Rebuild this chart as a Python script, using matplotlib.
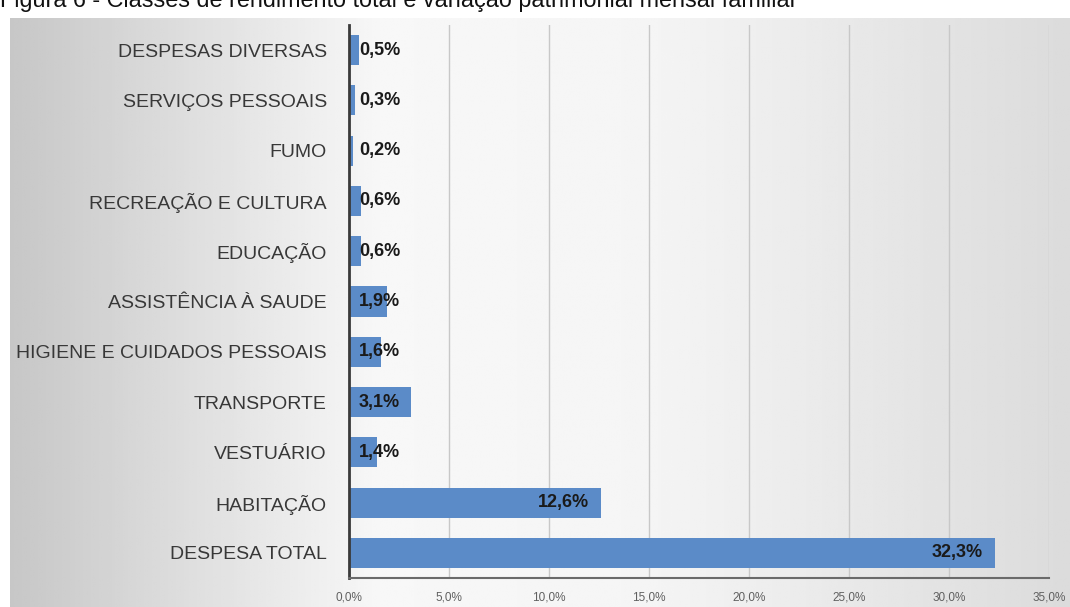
import numpy as np
import matplotlib.pyplot as plt
from matplotlib.ticker import FuncFormatter

plt.rcParams['font.family'] = ['Liberation Sans', 'DejaVu Sans']

categorias = ['DESPESA TOTAL', 'HABITAÇÃO', 'VESTUÁRIO', 'TRANSPORTE',
              'HIGIENE E CUIDADOS PESSOAIS', 'ASSISTÊNCIA À SAUDE', 'EDUCAÇÃO',
              'RECREAÇÃO E CULTURA', 'FUMO', 'SERVIÇOS PESSOAIS', 'DESPESAS DIVERSAS']
valores = [32.3, 12.6, 1.4, 3.1, 1.6, 1.9, 0.6, 0.6, 0.2, 0.3, 0.5]
ticks = [0, 5, 10, 15, 20, 25, 30, 35]

fig = plt.figure(figsize=(10.7, 6.07), dpi=100)

# fundo em degradê atrás do gráfico
bg = fig.add_axes([10 / 1070, 0, 1 - 10 / 1070, 1 - 18 / 607], zorder=0)
xs = np.linspace(0, 1, 400)
tons = np.interp(xs, [0, 0.35, 0.6, 1.0], [0.78, 0.97, 0.96, 0.86])
bg.imshow(np.tile(tons, (10, 1)), cmap='gray', vmin=0, vmax=1,
          aspect='auto', extent=[0, 1, 0, 1])
bg.axis('off')

ax = fig.add_axes([349 / 1070, 1 - 578 / 607, 700 / 1070, 553 / 607], zorder=1)
ax.patch.set_alpha(0)

y = np.arange(len(categorias))
ax.barh(y, valores, height=0.6, color='#5b8bc8', zorder=2)

for yi, v in zip(y, valores):
    ax.text(max(v - 0.6, 2.55), yi, f'{v:.1f}%'.replace('.', ','),
            ha='right', va='center', fontsize=13, fontweight='bold',
            color='#1a1a1a', zorder=3)

ax.set_xlim(0, 35)
ax.set_ylim(-0.5, 10.5)
ax.set_yticks(y)
ax.set_yticklabels(categorias, fontsize=14, color='#383838')
ax.set_xticks(ticks)
ax.xaxis.set_major_formatter(FuncFormatter(lambda v, p: f'{v:.1f}%'.replace('.', ',')))
ax.tick_params(axis='x', labelsize=8.5, colors='#606060', length=0, pad=10)
ax.tick_params(axis='y', length=0, pad=16)
ax.grid(axis='x', color='#c8c8c8', linewidth=1, zorder=0)

for s in ['top', 'right']:
    ax.spines[s].set_visible(False)
ax.spines['left'].set_color('#3a3a3a')
ax.spines['left'].set_linewidth(2)
ax.spines['bottom'].set_color('#6a6a6a')
ax.spines['bottom'].set_linewidth(1.5)

fig.text(0.0, 1 - 7 / 607, 'Figura 6 - Classes de rendimento total e variação patrimonial mensal familiar',
         fontsize=16.8, va='baseline', ha='left', color='#111111')

fig.savefig('out.png', dpi=100)
